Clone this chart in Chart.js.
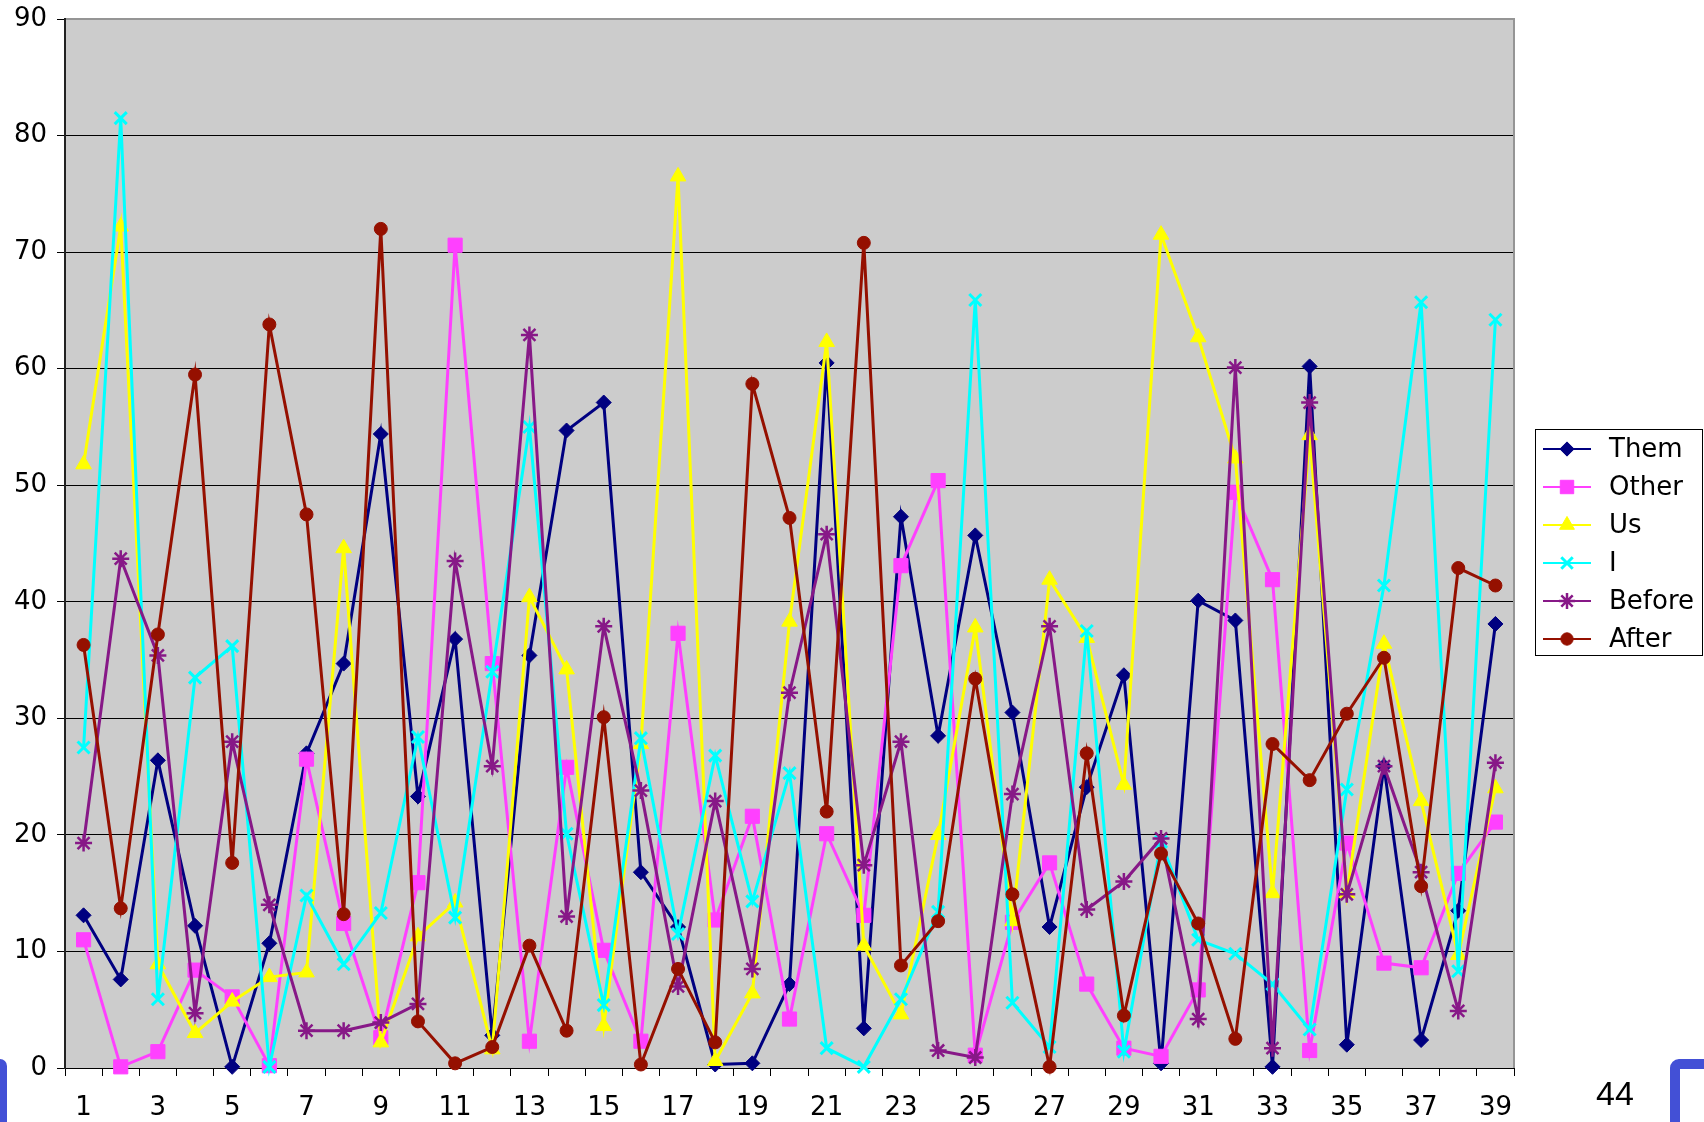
<!DOCTYPE html>
<html>
<head>
<meta charset="utf-8">
<title>Chart</title>
<script src="https://cdn.jsdelivr.net/npm/chart.js@4.4.1/dist/chart.umd.min.js"></script>
<style>
  html, body { margin: 0; padding: 0; background: #fff; }
  #wrap { position: relative; width: 1704px; height: 1122px; overflow: hidden; }
  #chart { position: absolute; left: 0; top: 0; }
  .page-num { position: absolute; left: 1596px; top: 1074px; font: 34px "Liberation Sans", Arial, sans-serif; color: #000; }
  .corner-left { position: absolute; left: -30px; top: 1059px; width: 37px; height: 100px; background: #4350d6; border-radius: 7px; }
  .corner-right { position: absolute; left: 1670px; top: 1059px; width: 100px; height: 100px; border: 10px solid #4350d6; border-radius: 9px; }
</style>
</head>
<body>
<div id="wrap">
  <canvas id="chart" width="1704" height="1122"></canvas>
  <div class="corner-left"></div>
  <div class="corner-right"></div>
  <div class="page-num">44</div>
</div>
<script>
// categories along the bottom
const categories = ['1','2','3','4','5','6','7','8','9','10','11','12','13','14','15','16','17','18','19','20',
  '21','22','23','24','25','26','27','28','29','30','31','32','33','34','35','36','37','38','39'];

// y axis tick labels
const yTicks = [0, 10, 20, 30, 40, 50, 60, 70, 80, 90];

// series values
const them = [13.1, 7.6, 26.4, 12.2, 0.1, 10.7, 27.0, 34.7, 54.4, 23.3, 36.8, 2.8, 35.4, 54.7, 57.1, 16.8, 12.1, 0.3, 0.4, 7.2,
  60.5, 3.4, 47.3, 28.5, 45.7, 30.5, 12.1, 24.1, 33.7, 0.4, 40.1, 38.4, 0.1, 60.2, 2.0, 25.9, 2.4, 13.5, 38.1];
const other = [11.0, 0.1, 1.4, 8.4, 6.1, 0.2, 26.5, 12.4, 2.6, 15.9, 70.6, 34.7, 2.3, 25.8, 10.1, 2.3, 37.3, 12.7, 21.6, 4.2,
  20.1, 13.1, 43.1, 50.4, 1.1, 12.5, 17.6, 7.2, 1.7, 1.0, 6.7, 49.4, 41.9, 1.5, 19.3, 9.0, 8.6, 16.7, 21.1];
const us = [51.8, 72.2, 8.9, 3.0, 5.7, 7.8, 8.2, 44.6, 2.2, 11.3, 14.2, 1.6, 40.4, 34.2, 3.6, 27.8, 76.5, 0.6, 6.4, 38.3,
  62.3, 10.5, 4.6, 20.0, 37.8, 12.6, 41.9, 36.9, 24.3, 71.5, 62.7, 52.3, 15.0, 54.3, 15.0, 36.4, 22.9, 9.7, 24.0];
const iSeries = [27.5, 81.5, 5.9, 33.5, 36.2, 0.1, 14.8, 8.9, 13.3, 28.4, 12.9, 34.0, 55.0, 20.1, 5.4, 28.3, 11.5, 26.8, 14.3, 25.3,
  1.7, 0.1, 5.9, 13.4, 65.9, 5.6, 1.8, 37.5, 1.4, 19.4, 11.0, 9.8, 7.2, 3.3, 23.9, 41.4, 65.7, 8.3, 64.2];
const before = [19.3, 43.7, 35.4, 4.7, 28.0, 14.0, 3.2, 3.2, 3.9, 5.5, 43.5, 25.9, 62.9, 13.0, 37.9, 23.8, 7.0, 22.9, 8.5, 32.2,
  45.8, 17.4, 28.0, 1.5, 0.9, 23.5, 37.9, 13.6, 16.0, 19.7, 4.2, 60.1, 1.7, 57.1, 14.9, 25.9, 16.8, 4.9, 26.2];
const after = [36.3, 13.7, 37.2, 59.5, 17.6, 63.8, 47.5, 13.2, 72.0, 4.0, 0.4, 1.8, 10.5, 3.2, 30.1, 0.3, 8.5, 2.2, 58.7, 47.2,
  22.0, 70.8, 8.8, 12.6, 33.4, 14.9, 0.1, 27.0, 4.5, 18.4, 12.4, 2.5, 27.8, 24.7, 30.4, 35.2, 15.6, 42.9, 41.4];

const seriesNames = ['Them', 'Other', 'Us', 'I', 'Before', 'After'];

function makeSet(label, data, color, style, radius, bw, idx) {
  return {
    label: label,
    data: data,
    borderColor: color,
    backgroundColor: color,
    borderWidth: 3,
    pointStyle: style,
    pointRadius: radius,
    pointHoverRadius: radius,
    pointBackgroundColor: color,
    pointBorderColor: color,
    pointBorderWidth: bw,
    tension: 0,
    clip: false,
    order: 6 - idx
  };
}

// plot area fill and frame
const plotFrame = {
  id: 'plotFrame',
  beforeDraw(chart) {
    const { ctx, chartArea: a } = chart;
    ctx.save();
    ctx.fillStyle = '#cccccc';
    ctx.fillRect(a.left, a.top, a.right - a.left, a.bottom - a.top);
    ctx.restore();
  },
  beforeDatasetsDraw(chart) {
    const { ctx, chartArea: a } = chart;
    ctx.save();
    ctx.strokeStyle = '#959595';
    ctx.lineWidth = 2;
    ctx.beginPath();
    ctx.moveTo(a.left + 1, a.top);
    ctx.lineTo(a.right, a.top);
    ctx.lineTo(a.right, a.bottom);
    ctx.stroke();
    ctx.restore();
  }
};

// legend with a box, Excel style
const boxLegend = {
  id: 'boxLegend',
  afterDraw(chart) {
    const ctx = chart.ctx;
    const x0 = 1535, y0 = 429, w = 167, h = 226;
    ctx.save();
    ctx.fillStyle = '#fff';
    ctx.fillRect(x0, y0, w, h);
    ctx.strokeStyle = '#000';
    ctx.lineWidth = 1;
    ctx.strokeRect(x0 + 0.5, y0 + 0.5, w, h);
    chart.data.datasets.forEach(function(ds, i) {
      const y = y0 + 20 + i * 38;
      ctx.strokeStyle = ds.borderColor;
      ctx.lineWidth = 2;
      ctx.beginPath();
      ctx.moveTo(x0 + 8, y);
      ctx.lineTo(x0 + 56, y);
      ctx.stroke();
      ctx.fillStyle = ds.pointBackgroundColor;
      ctx.strokeStyle = ds.pointBorderColor;
      ctx.lineWidth = ds.pointBorderWidth;
      Chart.helpers.drawPoint(ctx, {
        pointStyle: ds.pointStyle, radius: ds.pointRadius * 0.95,
        borderWidth: ds.pointBorderWidth, rotation: 0
      }, x0 + 32, y);
      ctx.fillStyle = '#000';
      ctx.font = '26px "DejaVu Sans"';
      ctx.textBaseline = 'middle';
      ctx.textAlign = 'left';
      ctx.fillText(ds.label, x0 + 74, y + 1);
    });
    ctx.restore();
  }
};

const el = document.getElementById('chart');
new Chart(el, {
  type: 'line',
  data: {
    labels: categories,
    datasets: [
      makeSet(seriesNames[0], them, '#000080', 'rectRot', 7.5, 1, 0),
      makeSet(seriesNames[1], other, '#ff40ff', 'rect', 10, 1, 1),
      makeSet(seriesNames[2], us, '#ffff00', 'triangle', 9, 1, 2),
      makeSet(seriesNames[3], iSeries, '#00ffff', 'crossRot', 8.5, 3, 3),
      makeSet(seriesNames[4], before, '#871887', 'star', 8.5, 2.5, 4),
      makeSet(seriesNames[5], after, '#951000', 'circle', 6.5, 1, 5)
    ]
  },
  options: {
    responsive: false,
    animation: false,
    events: [],
    layout: { padding: { left: 0, top: 18, right: 190, bottom: 0 } },
    plugins: {
      legend: { display: false },
      tooltip: { enabled: false }
    },
    scales: {
      x: {
        type: 'category',
        offset: true,
        afterFit: function(scale) { scale.height = 54; },
        grid: {
          offset: true,
          drawOnChartArea: false,
          drawTicks: true,
          tickLength: 8,
          color: '#000',
          tickColor: '#000'
        },
        border: { color: '#000', width: 1 },
        ticks: {
          autoSkip: false,
          maxRotation: 0,
          padding: 19,
          color: '#000',
          font: { family: '"DejaVu Sans"', size: 26, lineHeight: 1 },
          callback: function(v, i) { return i % 2 === 0 ? this.getLabelForValue(v) : ''; }
        }
      },
      y: {
        min: yTicks[0],
        max: yTicks[yTicks.length - 1],
        afterFit: function(scale) { scale.width = 65; },
        grid: {
          color: '#000',
          lineWidth: 1,
          tickLength: 8,
          tickColor: '#000'
        },
        border: { color: '#222', width: 2 },
        ticks: {
          stepSize: yTicks[1] - yTicks[0],
          padding: 10,
          color: '#000',
          font: { family: '"DejaVu Sans"', size: 26, lineHeight: 0.7 }
        }
      }
    }
  },
  plugins: [plotFrame, boxLegend]
});
</script>
</body>
</html>
